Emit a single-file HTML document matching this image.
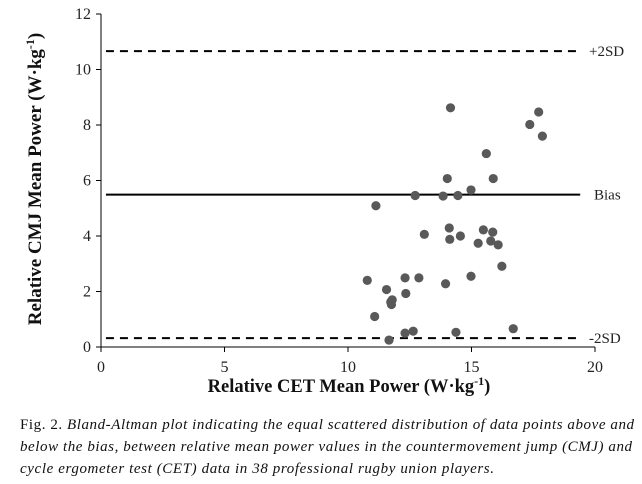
<!DOCTYPE html>
<html><head><meta charset="utf-8"><style>
body{margin:0;background:#fff;width:642px;height:484px;overflow:hidden;font-family:"Liberation Serif",serif}
</style></head><body>
<svg id="chart" width="642" height="484" style="position:absolute;left:0;top:0" font-family="Liberation Serif, serif">
<text x="20" y="429" font-size="15" font-style="italic" fill="#111" textLength="614" lengthAdjust="spacing"><tspan font-style="normal">Fig. 2.</tspan> Bland-Altman plot indicating the equal scattered distribution of data points above and</text>
<text x="20" y="451" font-size="15" font-style="italic" fill="#111" textLength="612" lengthAdjust="spacing">below the bias, between relative mean power values in the countermovement jump (CMJ) and</text>
<text x="20" y="473" font-size="15" font-style="italic" fill="#111" textLength="474" lengthAdjust="spacing">cycle ergometer test (CET) data in 38 professional rugby union players.</text>
</svg>
<script>
const xVals=[14.15,17.72,17.36,17.87,15.60,14.02,15.88,14.98,12.72,13.85,14.45,11.13,14.10,13.09,14.12,14.55,15.48,15.86,15.27,15.78,16.08,16.23,10.78,12.31,12.87,14.98,13.95,11.56,12.34,11.79,11.76,11.73,11.08,12.31,12.64,14.37,16.69,11.66];
const yVals=[8.62,8.47,8.02,7.60,6.97,6.07,6.07,5.66,5.46,5.44,5.46,5.09,4.29,4.06,3.88,4.00,4.22,4.14,3.74,3.82,3.68,2.91,2.40,2.49,2.49,2.55,2.28,2.07,1.93,1.70,1.53,1.62,1.10,0.50,0.57,0.53,0.66,0.25];
const xTicks=[0,5,10,15,20];
const yTicks=[0,2,4,6,8,10,12];
const refNames=["+2SD","Bias","-2SD"];
const refValues=[10.66,5.49,0.32];
const NS="http://www.w3.org/2000/svg";
const svg=document.getElementById('chart');
const X0=101,X1=595,Y0=347,Y1=14;
const sx=v=>X0+(X1-X0)*v/20, sy=v=>Y0-(Y0-Y1)*v/12;
function mk(t,a,txt){const e=document.createElementNS(NS,t);for(const k in a)e.setAttribute(k,a[k]);if(txt!==undefined)e.textContent=txt;svg.appendChild(e);return e;}
let e;
e=mk('line',{x1:X0,y1:Y0,x2:X1,y2:Y0,stroke:'#000','stroke-width':1});


e=mk('line',{x1:X0,y1:Y0,x2:X0,y2:Y1,stroke:'#000','stroke-width':1});


xTicks.forEach(t=>{
 mk('line',{x1:sx(t),y1:Y0,x2:sx(t),y2:Y0+5,stroke:'#000'});
 e=mk('text',{x:sx(t),y:Y0+25,'text-anchor':'middle','font-size':16,fill:'#222'},t);
 
 
});
yTicks.forEach(t=>{
 mk('line',{x1:X0-5,y1:sy(t),x2:X0,y2:sy(t),stroke:'#000'});
 e=mk('text',{x:X0-10,y:sy(t)+5,'text-anchor':'end','font-size':16,fill:'#222'},t);
 
 
});
refNames.forEach((n,i)=>{
 const y=sy(refValues[i]);
 e=mk('line',{x1:sx(0.2),y1:y,x2:sx(19.4),y2:y,stroke:'#000','stroke-width':2,'stroke-dasharray':n==='Bias'?'none':'8,6'});
 
 
 e=mk('text',{x:n==='Bias'?594:589,y:y+5,'font-size':15,fill:'#222'},n);
 
 
});
xVals.forEach((v,i)=>{
 e=mk('circle',{cx:sx(v),cy:sy(yVals[i]),r:4.6,fill:'#595959'});
 
 
});
e=mk('text',{x:349,y:392,'text-anchor':'middle','font-size':18.5,'font-weight':'bold',fill:'#111'},'');
e.innerHTML='Relative CET Mean Power (W·kg<tspan dy="-7" font-size="12">-1</tspan><tspan dy="7">)</tspan>';


e=mk('text',{x:0,y:0,'text-anchor':'middle','font-size':19,'font-weight':'bold',fill:'#111',transform:'translate(41,179) rotate(-90)'},'');
e.innerHTML='Relative CMJ Mean Power (W·kg<tspan dy="-7" font-size="12">-1</tspan><tspan dy="7">)</tspan>';


</script>
</body></html>
